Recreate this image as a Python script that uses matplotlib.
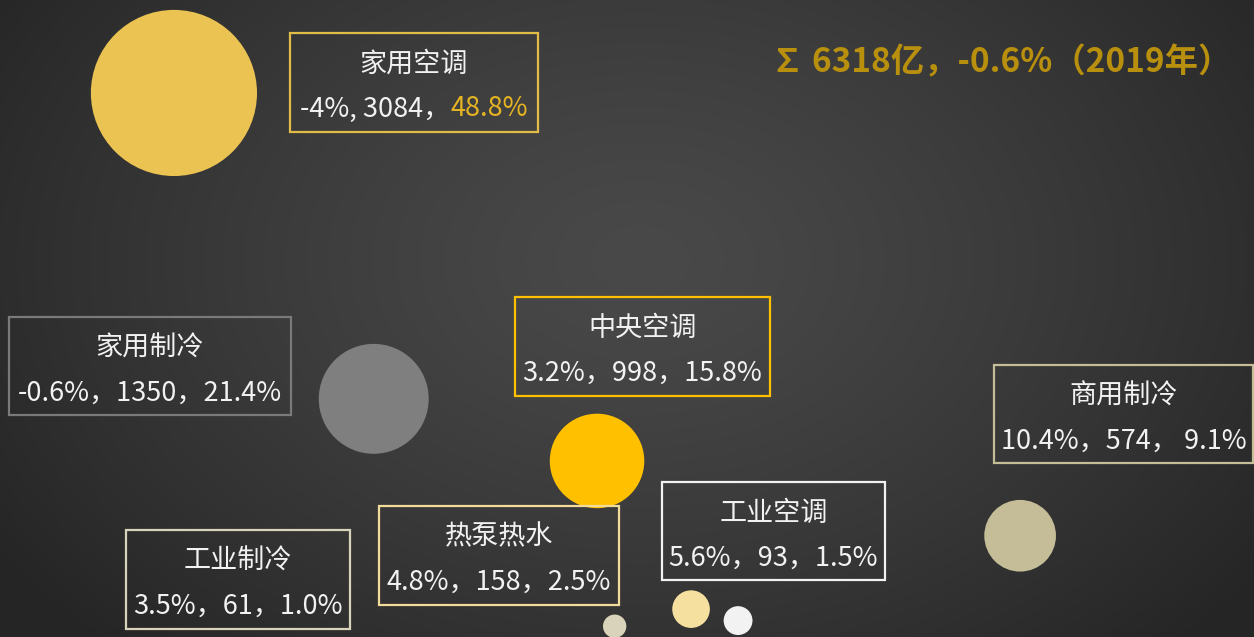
import numpy as np
import matplotlib
matplotlib.use('Agg')
import matplotlib.pyplot as plt
from matplotlib.patches import Rectangle
from matplotlib.offsetbox import TextArea, HPacker, AnnotationBbox

plt.rcParams['font.family'] = ['Noto Sans CJK SC', 'DejaVu Sans']

# ---------------- data ----------------
categories = ['家用空调', '家用制冷', '中央空调', '商用制冷', '工业制冷', '热泵热水', '工业空调']
growth = [-4.0, -0.6, 3.2, 10.4, 3.5, 4.8, 5.6]          # % growth (x)
sales = [3084, 1350, 998, 574, 61, 158, 93]               # 亿 (y and bubble area)
share = [48.8, 21.4, 15.8, 9.1, 1.0, 2.5, 1.5]            # % share
value_texts = [
    ['-4%, 3084，', '48.8%'],
    ['-0.6%，1350，21.4%'],
    ['3.2%，998，15.8%'],
    ['10.4%，574， 9.1%'],
    ['3.5%，61，1.0%'],
    ['4.8%，158，2.5%'],
    ['5.6%，93，1.5%'],
]
title_text = '∑ 6318亿，-0.6%（2019年）'

# ---------------- style ----------------
bubble_colors = ['#EBC352', '#7F7F7F', '#FFC000', '#C4BD97', '#D8D3BA', '#F5E09F', '#F2F2F2']
box_colors = ['#E2BC48', '#7A7A7A', '#FFC000', '#C4BD97', '#D8D3BA', '#F2DC9B', '#F2F2F2']
text_color = '#F2F2F2'
W, H = 1254, 637
# label boxes in pixel coords (x0, y0, x1, y1), y from top
boxes = [
    (290, 33, 538, 132),
    (9, 317, 291, 415),
    (515, 297, 770, 396),
    (994, 365, 1253, 463),
    (126, 530, 350, 629),
    (379, 506, 619, 605),
    (662, 482, 885, 580),
]

fig = plt.figure(figsize=(W / 100, H / 100), dpi=100)

# background radial gradient
bg = fig.add_axes([0, 0, 1, 1], zorder=0)
yy, xx = np.mgrid[0:H, 0:W]
d = np.sqrt(((xx - 640) / (W * 0.62)) ** 2 + ((yy - 260) / (H * 0.85)) ** 2)
d = np.clip(d, 0, 1)
g = (73 - 36 * d ** 1.3) / 255.0
img = np.dstack([g, g, g])
bg.imshow(img, extent=[0, 1, 0, 1], aspect='auto', origin='upper')
bg.set_xlim(0, 1)
bg.set_ylim(0, 1)
bg.axis('off')

ax = fig.add_axes([0, 0, 1, 1], zorder=1)
ax.patch.set_alpha(0)
ax.set_xlim(-6.96, 14.38)
ax.set_ylim(0, 3611)
ax.axis('off')

sizes = [4.64 * v for v in sales]
ax.scatter(growth, sales, s=sizes, c=bubble_colors, linewidths=0, zorder=3, clip_on=False)

fs = 19.5
for i, cat in enumerate(categories):
    x0, y0, x1, y1 = boxes[i]
    fx0, fx1 = x0 / W, x1 / W
    fy0, fy1 = 1 - y1 / H, 1 - y0 / H
    fig.patches.append(Rectangle((fx0, fy0), fx1 - fx0, fy1 - fy0, transform=fig.transFigure,
                                 fill=False, edgecolor=box_colors[i], linewidth=1.6, zorder=4))
    cx = (fx0 + fx1) / 2
    ty = 1 - (y0 + 31) / H
    vy = 1 - (y0 + 76) / H
    fig.text(cx, ty, cat, color=text_color, fontsize=fs, ha='center', va='center', zorder=5)
    parts = value_texts[i]
    if len(parts) == 1:
        fig.text(cx, vy, parts[0], color=text_color, fontsize=fs, ha='center', va='center', zorder=5)
    else:
        areas = [TextArea(parts[0], textprops=dict(color=text_color, fontsize=fs)),
                 TextArea(parts[1], textprops=dict(color='#E6B422', fontsize=fs))]
        pack = HPacker(children=areas, pad=0, sep=0, align='baseline')
        ab = AnnotationBbox(pack, (cx, vy), xycoords='figure fraction', frameon=False,
                            box_alignment=(0.5, 0.5), pad=0)
        ab.set_zorder(5)
        fig.add_artist(ab)

fig.text(1001 / W, 1 - 63 / H, title_text, color='#B8900E', fontsize=24, fontweight='bold',
         ha='center', va='center', zorder=5)

fig.savefig('out.png', dpi=100)
